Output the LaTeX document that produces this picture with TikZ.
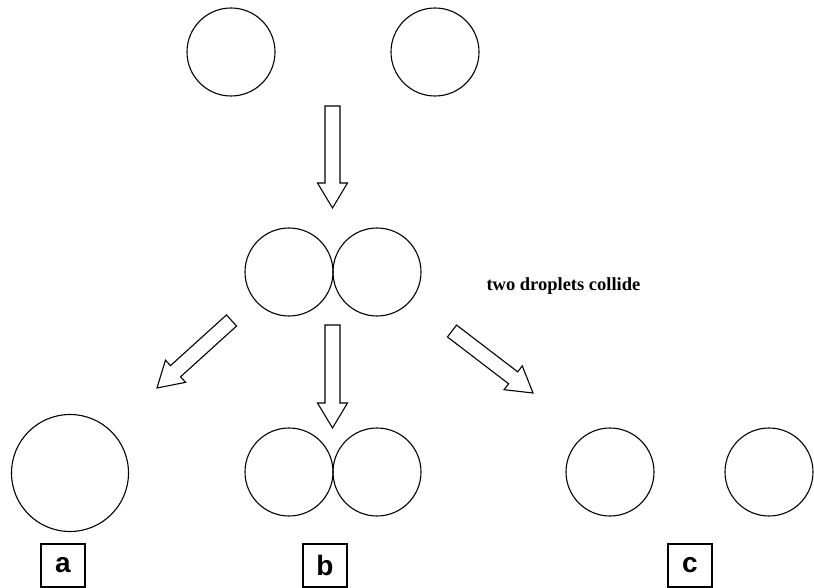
\documentclass[tikz,border=0pt]{standalone}
\usepackage{fontspec}
\setmainfont{Liberation Serif}
\newfontfamily\labelfont{Liberation Sans}
\usetikzlibrary{calc}
\tikzset{
  drop/.style={circle, draw, line width=1.1pt, minimum size=#1, inner sep=0pt},
  drop/.default=88pt,
  lab/.style={draw, line width=1.1pt, minimum width=44pt, minimum height=43pt, inner sep=0pt,
    font=\labelfont\bfseries\fontsize{28}{28}\selectfont},
  blk/.style={draw, line width=1.1pt, line join=miter, fill=white},
}
\newcommand{\blockarrow}[3]{%
  \coordinate (#3h) at ($(#2)!25pt!(#1)$);
  \draw[blk] ($(#1)!7.5pt!90:(#2)$) -- ($(#3h)!7.5pt!-90:(#1)$) -- ($(#3h)!15pt!-90:(#1)$)
    -- (#2) -- ($(#3h)!15pt!90:(#1)$) -- ($(#3h)!7.5pt!90:(#1)$) -- ($(#1)!7.5pt!-90:(#2)$) -- cycle;
}
\begin{document}
\begin{tikzpicture}[x=1pt,y=-1pt]
\useasboundingbox (0,0) rectangle (814,588);
% top droplets
\node[drop] (t1) at (231,52) {};
\node[drop] (t2) at (435,52) {};
% colliding pair
\node[drop] (m1) at (289,272) {};
\node[drop] (m2) at (377,272) {};
\node[anchor=base west, font=\bfseries\fontsize{18.5}{20}\selectfont] (txt) at (483,290) {two droplets collide};
% outcomes
\node[drop=117pt] (a1) at (70,473) {};
\node[drop] (b1) at (289,472) {};
\node[drop] (b2) at (377,472) {};
\node[drop] (c1) at (610,472) {};
\node[drop] (c2) at (769,472) {};
% labels
\node[lab] (la) at (63,565.5) {a};
\node[lab] (lb) at (325,565.5) {b};
\node[lab] (lc) at (690,565.5) {c};
% arrows
\coordinate (s1) at (332.5,106); \coordinate (e1) at (332.5,208);
\coordinate (s2) at (332.5,325); \coordinate (e2) at (332.5,428);
\coordinate (s3) at (231.5,320.5); \coordinate (e3) at (157,388);
\coordinate (s4) at (452,331); \coordinate (e4) at (533,393);
\blockarrow{s1}{e1}{ar1}
\blockarrow{s2}{e2}{ar2}
\blockarrow{s3}{e3}{ar3}
\blockarrow{s4}{e4}{ar4}
\end{tikzpicture}
\end{document}
